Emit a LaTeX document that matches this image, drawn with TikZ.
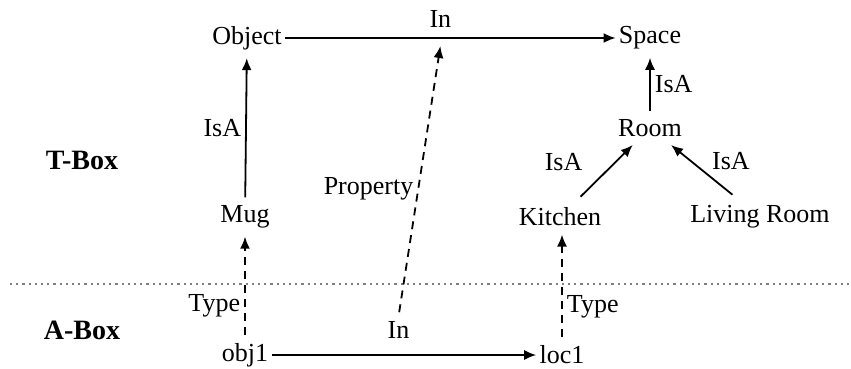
\documentclass[tikz,border=0pt]{standalone}
\usepackage{fontspec}
\setmainfont{Liberation Serif}
\usetikzlibrary{arrows.meta}
\tikzset{
  concept/.style={inner xsep=1.5pt, inner ysep=4pt, font=\fontsize{13}{15}\selectfont},
  rel/.style={inner sep=2pt, font=\fontsize{13}{15}\selectfont},
  boxname/.style={font=\fontsize{14}{16}\selectfont\bfseries},
  isa/.style={-{Latex[length=6pt,width=5pt]}, line width=0.9pt},
  typeof/.style={isa, dash pattern=on 4pt off 3pt},
  divider/.style={gray, line width=1.1pt, dash pattern=on 1.1pt off 2pt}
}

\begin{document}
\begin{tikzpicture}[x=0.5pt, y=-0.5pt]
    \useasboundingbox (0,0) rectangle (851,369);

    % T-Box
    \node[concept] (object) at (247,38) {Object};
    \node[concept] (space) at (650,38) {Space};
    \node[concept] (room) at (650,128) {Room};
    \node[concept] (mug) at (245,217) {Mug};
    \node[concept] (kitchen) at (560,217) {Kitchen};
    \node[concept] (living) at (760,217) {Living Room};

    % A-Box
    \node[concept] (obj1) at (245,355) {obj1};
    \node[concept] (loc1) at (562,355) {loc1};

    % box names
    \node[boxname] (tbox) at (82,160) {T-Box};
    \node[boxname] (abox) at (82,330) {A-Box};
    \draw[divider] (10,284) -- (851,284);

    % relations
    \draw[isa] (object) -- coordinate[pos=0.47] (inT) node[rel, pos=0.47, above, yshift=3pt] {In} (space);
    \draw[isa] (mug) -- node[rel, midway, left] {IsA} (object);
    \draw[isa] (room) -- node[rel, midway, right] {IsA} (space);
    \draw[isa, shorten <=2pt] (kitchen) -- node[rel, midway, left=9pt, yshift=5pt] {IsA} (room);
    \draw[isa, shorten <=2pt] (living) -- node[rel, midway, right=2pt, yshift=5pt] {IsA} (room);
    \draw[isa] (obj1) -- node[rel, pos=0.48, above, yshift=6pt] (inA) {In} (loc1);

    % instance links
    \draw[typeof] (obj1) -- node[rel, pos=0.3, left] {Type} (mug);
    \draw[typeof] (loc1.north) -- node[rel, pos=0.3, right] {Type} (loc1 |- kitchen.south);
    \draw[typeof, shorten <=2pt] (inA.north) -- node[rel, pos=0.47, left] {Property} ([yshift=-4pt]inT);
\end{tikzpicture}
\end{document}
